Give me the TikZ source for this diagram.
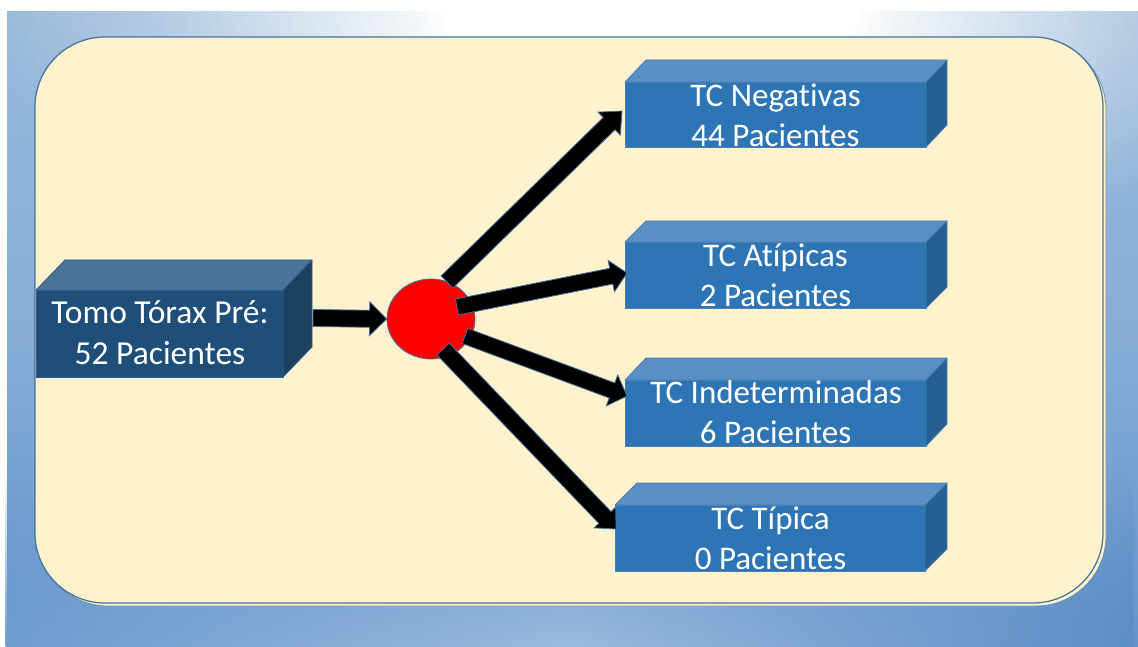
\documentclass[tikz,border=0pt]{standalone}
\usepackage{fontspec}
\setmainfont[Ligatures=NoCommon]{Carlito}
\usetikzlibrary{calc,shapes.geometric,fadings}
\definecolor{cream}{HTML}{FFF2CC}
\definecolor{frameline}{HTML}{41719C}
\definecolor{bfront}{HTML}{2E75B6}
\definecolor{btop}{HTML}{5A8FC6}
\definecolor{bside}{HTML}{255E91}
\definecolor{bedge}{HTML}{4A7DB0}
\definecolor{lfront}{HTML}{1F4E79}
\definecolor{ltop}{HTML}{4A7398}
\definecolor{lside}{HTML}{1C4161}
\definecolor{ledge}{HTML}{2F5F8C}
\definecolor{bgT}{HTML}{97B9DB}
\definecolor{bgMid}{HTML}{88AED7}
\definecolor{bgBot}{HTML}{6394CA}
\definecolor{bgL}{HTML}{6E9DCF}
\definecolor{bgM}{HTML}{9CBADD}
\definecolor{bgR}{HTML}{5B8DC6}
\tikzfading[name=fadeup, top color=transparent!100, bottom color=transparent!0]
\newcommand{\cubefaces}[6]{%
  \filldraw[fill=#4, draw=#6, line width=0.8pt, line join=round] (#1.north west) -- ++(#2,#3) -- ($(#1.north east)+(#2,#3)$) -- (#1.north east) -- cycle;
  \filldraw[fill=#5, draw=#6, line width=0.8pt, line join=round] (#1.north east) -- ($(#1.north east)+(#2,#3)$) -- ($(#1.south east)+(#2,#3)$) -- (#1.south east) -- cycle;
}
\newcommand{\blockarr}[5]{%
  \coordinate (bhc) at ($(#2)!#5!(#1)$);
  \filldraw[arrowsty] ($(#1)!#3!90:(#2)$) -- ($(bhc)!#3!90:(#2)$) -- ($(bhc)!#4!90:(#2)$) -- (#2) -- ($(bhc)!#4!-90:(#2)$) -- ($(bhc)!#3!-90:(#2)$) -- ($(#1)!#3!-90:(#2)$) -- cycle;
}
\tikzset{
  front/.style={draw=bedge, fill=bfront, line width=0.8pt, inner sep=0pt, outer sep=0pt, anchor=north west},
  lbl/.style={text=white, font=\fontsize{33}{40}\selectfont, anchor=base, inner sep=0pt},
  arrowsty/.style={fill=black, draw=frameline, line width=0.8pt, line join=miter},
}
\begin{document}
\begin{tikzpicture}[x=1pt,y=-1pt]
\useasboundingbox (0,0) rectangle (1138,647);
% background panel
\shade[top color=bgT, bottom color=bgBot, middle color=bgMid] (7,12) rectangle (1138,647);
\begin{scope}
  \clip (7,12) rectangle (1138,647);
  \foreach \n in {1,...,40}{
    \pgfmathsetmacro\op{1/(41-\n)}
    \pgfmathsetmacro\rf{1-(\n-1)/40*0.7}
    \fill[white, fill opacity=\op] (650,12) ellipse [x radius=660*\rf, y radius=260*\rf];
  }
\end{scope}
\shade[left color=bgL, right color=bgR, middle color=bgM, path fading=fadeup] (7,470) rectangle (1138,647);
% frame
\draw[draw=frameline!80, line width=0.8pt, fill=cream, rounded corners=70pt] (38,40) rectangle (1106,606);
\draw[draw=frameline, line width=1.2pt, fill=cream, rounded corners=70pt] (35,37) rectangle (1103,603);
% left box
\node[front, draw=ledge, fill=lfront, minimum width=247pt, minimum height=87pt] (L) at (36,290) {};
\cubefaces{L}{29}{-30}{ltop}{lside}{ledge}
% right boxes
\node[front, minimum width=301pt, minimum height=65pt] (N1) at (625,82) {};
\cubefaces{N1}{21}{-22}{btop}{bside}{bedge}
\node[front, minimum width=301pt, minimum height=66pt] (N2) at (625,242) {};
\cubefaces{N2}{21}{-21}{btop}{bside}{bedge}
\node[front, minimum width=301pt, minimum height=66pt] (N3) at (625,380) {};
\cubefaces{N3}{21}{-22}{btop}{bside}{bedge}
\node[front, minimum width=310pt, minimum height=66pt] (N4) at (615,505) {};
\cubefaces{N4}{22}{-22}{btop}{bside}{bedge}
% circle
\node[ellipse, draw=frameline, line width=0.8pt, fill=red, minimum width=88pt, minimum height=80pt, inner sep=0pt] (c) at (431,319) {};
% arrow endpoints
\coordinate (s0) at (313,318);
\coordinate (s1) at (447,282);
\coordinate (t1) at (622,111);
\coordinate (s2) at (457,307);
\coordinate (t2) at (627,273);
\coordinate (s3) at (465,336);
\coordinate (t3) at (627,396);
\coordinate (s4) at (443,349);
\coordinate (t4) at (616,529);
\blockarr{s0}{c.west}{8.5pt}{17pt}{17pt}
\blockarr{s1}{t1}{8.5pt}{16pt}{18pt}
\blockarr{s2}{t2}{8pt}{16pt}{16pt}
\blockarr{s3}{t3}{8pt}{16.5pt}{16pt}
\blockarr{s4}{t4}{8.5pt}{15pt}{16pt}
% labels
\node[lbl, font=\fontsize{33.5}{40}\selectfont] (l1) at (160,323) {Tomo Tórax Pré:};
\node[lbl, font=\fontsize{33.5}{40}\selectfont] (l2) at (160,364) {52 Pacientes};
\node[lbl] (n1a) at (775.5,107) {TC Negativas};
\node[lbl] (n1b) at (775.5,146.5) {44 Pacientes};
\node[lbl] (n2a) at (775.5,266) {TC Atípicas};
\node[lbl] (n2b) at (775.5,306.5) {2 Pacientes};
\node[lbl] (n3a) at (776,403.5) {TC Indeterminadas};
\node[lbl] (n3b) at (775.5,443.5) {6 Pacientes};
\node[lbl] (n4a) at (770.5,529) {TC Típica};
\node[lbl] (n4b) at (770.5,569) {0 Pacientes};
\end{tikzpicture}
\end{document}
